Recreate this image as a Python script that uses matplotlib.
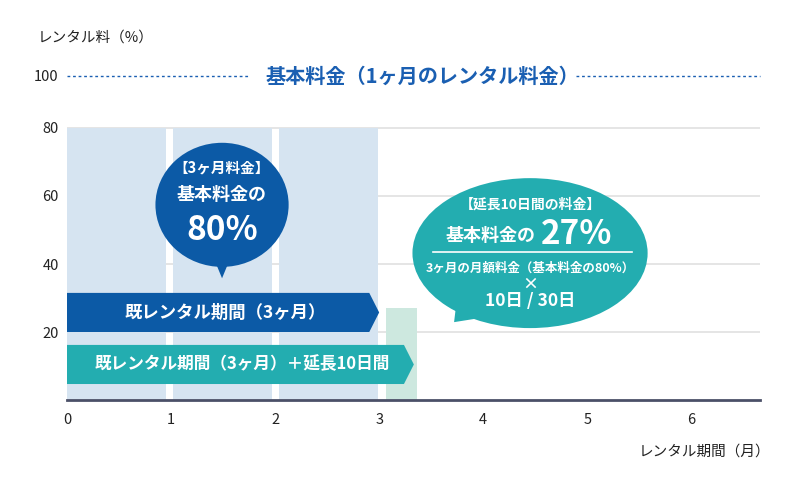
import matplotlib
matplotlib.use("Agg")
import matplotlib.pyplot as plt
from matplotlib.patches import Polygon, Ellipse
import numpy as np

plt.rcParams['font.family'] = ['Noto Sans CJK JP', 'DejaVu Sans']

# ---- data ----
months = [0, 1, 2]
base_values = [80, 80, 80]
ext_start = 3.07
ext_width = 0.29
ext_value = 27
x_ticks = [0, 1, 2, 3, 4, 5, 6]
y_ticks = [20, 40, 60, 80]
y_tick_labels = ['20', '40', '60', '80']
y_top_label = '100'
y_top_pos = 95.3
arrow1_end = 3.0
arrow2_end = 3.0 + 10 / 30
arrow1_band = (20.0, 31.5)
arrow2_band = (4.7, 16.2)

BLUE = '#0c5aa6'
TEAL = '#23adb0'
LIGHT = '#d6e4f1'
MINT = '#cde8df'
TITLE_BLUE = '#1a5fb2'
TXT = '#222222'

fig = plt.figure(figsize=(8, 5), dpi=100)
ax = fig.add_axes([0.08375, 0.2, 0.86625, 0.68])
ax.set_xlim(0, 6.66)
ax.set_ylim(0, 100)

# gridlines
for y in y_ticks:
    ax.axhline(y, color='#e0e0e0', lw=1.2, zorder=0)

# bars
bar_pos = [m * 1.02 for m in months]
ax.bar(bar_pos, base_values, width=0.95, align='edge', color=LIGHT, zorder=1)
ax.bar([ext_start], [ext_value], width=ext_width, align='edge', color=MINT, zorder=1)

# arrows
def arrow(end, band, color, tip=0.095):
    y0, y1 = band
    pts = [(0, y0), (end - tip, y0), (end, (y0 + y1) / 2), (end - tip, y1), (0, y1)]
    ax.add_patch(Polygon(pts, closed=True, color=color, zorder=3, lw=0))

arrow(arrow1_end, arrow1_band, BLUE)
arrow(arrow2_end, arrow2_band, TEAL)
ax.text(1.52, sum(arrow1_band) / 2, '既レンタル期間（3ヶ月）', color='white', fontsize=12.5,
        fontweight='bold', ha='center', va='center', zorder=4)
ax.text(1.68, sum(arrow2_band) / 2, '既レンタル期間（3ヶ月）＋延長10日間', color='white', fontsize=12,
        fontweight='bold', ha='center', va='center', zorder=4)

# left bubble
ax.add_patch(Ellipse((1.49, 57.4), 1.28, 36.5, color=BLUE, zorder=5, lw=0))
ax.add_patch(Polygon([(1.42, 41), (1.56, 41), (1.49, 35.8)], closed=True, color=BLUE, zorder=5, lw=0))
ax.text(1.49, 68.3, '【3ヶ月料金】', color='white', fontsize=10.5, fontweight='bold',
        ha='center', va='center', zorder=6)
ax.text(1.49, 60.5, '基本料金の', color='white', fontsize=13, fontweight='bold',
        ha='center', va='center', zorder=6)
ax.text(1.49, 50.0, '80%', color='white', fontsize=24, fontweight='bold',
        ha='center', va='center', zorder=6)

# right bubble
ax.add_patch(Ellipse((4.45, 43.2), 2.26, 44.1, color=TEAL, zorder=5, lw=0))
ax.add_patch(Polygon([(3.74, 28), (3.72, 22.9), (4.05, 24.5)], closed=True, color=TEAL, zorder=5, lw=0))
ax.text(4.45, 57.6, '【延長10日間の料金】', color='white', fontsize=10, fontweight='bold',
        ha='center', va='center', zorder=6)
ax.text(4.07, 48.3, '基本料金の', color='white', fontsize=13, fontweight='bold',
        ha='center', va='center', zorder=6)
ax.text(4.9, 48.8, '27%', color='white', fontsize=24, fontweight='bold',
        ha='center', va='center', zorder=6)
ax.plot([3.52, 5.43], [43.5, 43.5], color='white', lw=1.2, zorder=6)
ax.text(4.45, 38.8, '3ヶ月の月額料金（基本料金の80%）', color='white', fontsize=9, fontweight='bold',
        ha='center', va='center', zorder=6)
ax.text(4.45, 34.3, '×', color='white', fontsize=11.5, fontweight='bold',
        ha='center', va='center', zorder=6)
ax.text(4.45, 29.0, '10日 / 30日', color='white', fontsize=12.5, fontweight='bold',
        ha='center', va='center', zorder=6)

# title with dotted lines
ax.plot([0, 1.74], [y_top_pos, y_top_pos], color=TITLE_BLUE, lw=1, ls=(0, (2, 2)), clip_on=False)
ax.plot([4.89, 6.66], [y_top_pos, y_top_pos], color=TITLE_BLUE, lw=1, ls=(0, (2, 2)), clip_on=False)
ax.text(3.415, y_top_pos, '基本料金（1ヶ月のレンタル料金）', color=TITLE_BLUE, fontsize=14.5,
        fontweight='bold', ha='center', va='center')

# axes styling
for s in ['left', 'right', 'top']:
    ax.spines[s].set_visible(False)
ax.spines['bottom'].set_color('#4b5068')
ax.spines['bottom'].set_linewidth(2)
ax.spines['bottom'].set_zorder(7)
ax.set_xticks(x_ticks)
ax.set_xticklabels([str(v) for v in x_ticks])
ax.set_yticks(y_ticks + [y_top_pos])
ax.set_yticklabels(y_tick_labels + [y_top_label])
ax.tick_params(axis='both', length=0, labelsize=10.5, colors=TXT)
ax.tick_params(axis='x', pad=9)
ax.tick_params(axis='y', pad=6)

fig.text(38 / 800, 1 - 38 / 500, 'レンタル料（%）', fontsize=10.5, color=TXT, ha='left', va='center')
fig.text(770 / 800, 1 - 452 / 500, 'レンタル期間（月）', fontsize=10.5, color=TXT, ha='right', va='center')

fig.savefig('out.png', dpi=100)
